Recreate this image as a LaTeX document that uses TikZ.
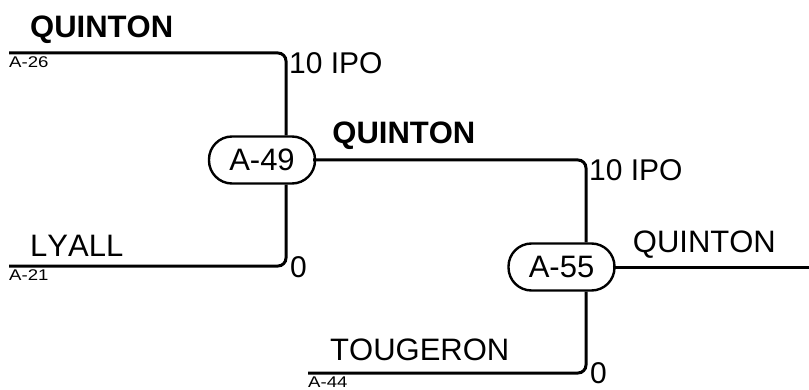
\documentclass[tikz,border=0pt]{standalone}
\usepackage{fontspec}
\setmainfont[Kerning=Off]{Liberation Sans}
\newfontfamily\seedfont[Kerning=Off,FakeStretch=1.2]{Liberation Sans}
\usetikzlibrary{positioning,calc}
\tikzset{
  bracket/.style={black,line width=3pt,rounded corners=8pt},
  match/.style={draw=black,line width=2.4pt,fill=white,rounded corners=23pt,
                minimum width=106pt,minimum height=47pt,inner sep=0pt,
                font=\fontsize{31}{36}\selectfont},
  team/.style={anchor=base west,inner sep=0pt,font=\fontsize{31}{36}\selectfont},
  teamwin/.style={team,font=\fontsize{31}{36}\selectfont\bfseries},
  seed/.style={anchor=north west,inner sep=0pt,font=\seedfont\fontsize{15.5}{18}\selectfont},
  score/.style={inner sep=0pt,font=\fontsize{30}{36}\selectfont},
}

\begin{document}
\begin{tikzpicture}[x=1pt,y=1pt]
    \useasboundingbox (0,0) rectangle (809,389);
    % free ends of the lines
    \coordinate (a26) at (9,336);
    \coordinate (a21) at (9,123);
    \coordinate (a44) at (308,16);
    \coordinate (win) at (809,122);

    % matches
    \node[match] (m49) at (262,229) {A-49};
    \node[match] (m55) at (561.5,122) {A-55};

    \draw[bracket] (a26) -| ([xshift=24pt]m49.north);
    \draw[bracket] (a21) -| ([xshift=24pt]m49.south);
    \draw[bracket] ([xshift=-3pt]m49.east) -| ([xshift=24.5pt]m55.north);
    \draw[bracket] (a44) -| ([xshift=24.5pt]m55.south);
    \draw[bracket] ([xshift=-3pt]m55.east) -- (win);

    % names
    \node[teamwin] (n26) at ($(a26)+(21,15)$) {QUINTON};
    \node[team] (n21) at ($(a21)+(21,10)$) {LYALL};
    \node[teamwin] (n49) at ($(m49.east)+(16,16)$) {QUINTON};
    \node[team] (n44) at ($(a44)+(22,13)$) {TOUGERON};
    \node[team] (n55) at ($(m55.east)+(17,15)$) {QUINTON};

    % seeds
    \node[seed] (s26) at ($(a26)+(0,-3.5)$) {A-26};
    \node[seed] (s21) at ($(a21)+(0,-3.5)$) {A-21};
    \node[seed] (s44) at ($(a44)+(0,-3.5)$) {A-44};

    % scores
    \node[score,anchor=north west] (r26) at (289,337) {10 IPO};
    \node[score,anchor=west] (r21) at (290,122) {0};
    \node[score,anchor=north west] (r49) at (589,230) {10 IPO};
    \node[score,anchor=west] (r44) at (590,16) {0};
  \end{tikzpicture}
\end{document}
